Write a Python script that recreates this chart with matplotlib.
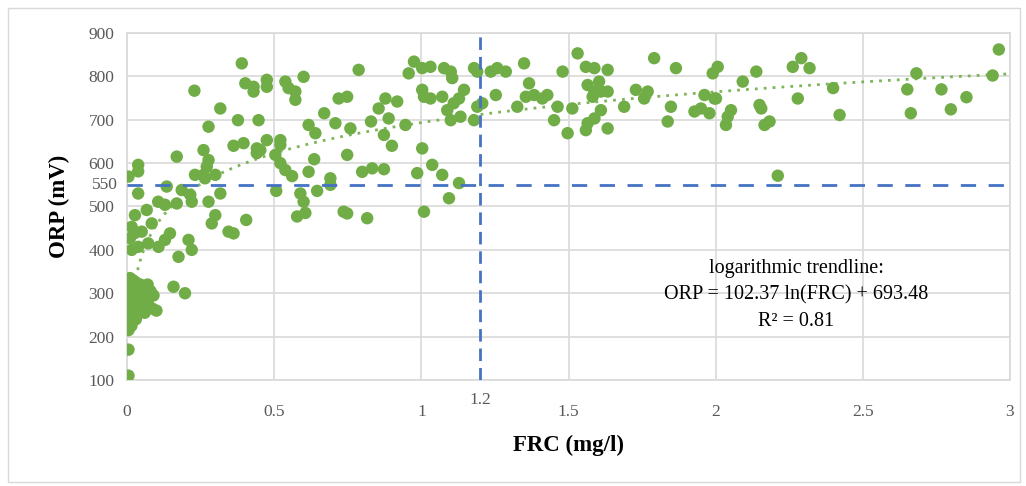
import numpy as np
import matplotlib
matplotlib.use("Agg")
import matplotlib.pyplot as plt
from matplotlib.patches import Rectangle

# ---- data (FRC mg/l, ORP mV) ----
frc_low = [0.005, 0.005, 0.005, 0.005, 0.005, 0.005, 0.005, 0.005, 0.005, 0.005, 0.01, 0.01, 0.01, 0.01,
           0.015, 0.015, 0.02, 0.02, 0.02, 0.025, 0.025, 0.03, 0.03, 0.035, 0.035, 0.04, 0.04, 0.045,
           0.045, 0.05, 0.05, 0.055, 0.06, 0.06, 0.065, 0.07, 0.07, 0.075, 0.08, 0.085, 0.09, 0.1,
           0.03, 0.015]
orp_low = [110, 170, 215, 230, 245, 260, 275, 290, 305, 320, 335, 250, 270, 285,
           300, 315, 330, 260, 280, 295, 245, 310, 325, 270, 290, 305, 255, 320,
           280, 295, 265, 310, 285, 255, 300, 320, 275, 290, 305, 265, 295, 260,
           240, 225]

frc_mid = [0.027, 0.067, 0.084, 0.016, 0.01, 0.027, 0.05, 0.016, 0.038, 0.072, 0.107, 0.146, 0.129,
           0.209, 0.22, 0.175, 0.158, 0.197, 0.30, 0.288, 0.345, 0.362, 0.405,
           0.106, 0.129, 0.169, 0.22, 0.277, 0.135, 0.186, 0.215, 0.317, 0.038,
           0.038, 0.038, 0.005, 0.169, 0.26, 0.277, 0.271, 0.30, 0.26, 0.231, 0.265]
orp_mid = [480, 492, 461, 453, 427, 439, 442, 400, 407, 415, 407, 438, 423,
           423, 400, 384, 315, 300, 480, 461, 442, 438, 469,
           511, 504, 507, 511, 511, 546, 538, 527, 530, 530,
           596, 581, 569, 615, 630, 607, 592, 573, 573, 573, 565]

frc_a = [0.39, 0.402, 0.43, 0.43, 0.475, 0.475, 0.229, 0.317, 0.277, 0.377, 0.447, 0.362, 0.396,
         0.441, 0.441, 0.475, 0.521, 0.521, 0.453,
         0.538, 0.549, 0.572, 0.572, 0.60, 0.504, 0.521, 0.538, 0.561, 0.507, 0.617, 0.636, 0.589,
         0.60, 0.578, 0.606, 0.617, 0.64, 0.67, 0.708, 0.719, 0.748, 0.787, 0.748, 0.759, 0.691,
         0.691, 0.646, 0.799, 0.833, 0.873, 0.736, 0.748, 0.816, 0.855, 0.878, 0.918, 0.829, 0.873,
         0.90, 0.889, 0.946, 0.957, 0.975]
orp_a = [830, 784, 776, 765, 792, 776, 767, 726, 684, 699, 699, 640, 646,
         634, 623, 653, 653, 642, 630,
         788, 773, 765, 746, 799, 619, 600, 584, 570, 536, 580, 609, 530,
         511, 477, 485, 688, 669, 715, 692, 749, 753, 815, 619, 680, 565,
         550, 536, 580, 588, 586, 488, 484, 473, 726, 749, 742, 696, 665,
         640, 703, 688, 807, 834]

frc_b = [0.986, 1.009, 1.003, 1.031, 1.077, 1.10, 1.105, 1.179, 1.19, 1.236, 1.258, 1.287, 1.349,
         1.48, 1.003, 1.009, 1.031, 1.071, 1.145, 1.128, 1.11, 1.088, 1.10, 1.133, 1.179, 1.19,
         1.207, 1.253, 1.326, 1.366, 1.355, 1.383, 1.411, 1.428, 1.463, 1.451, 1.497, 1.513, 1.003,
         1.037, 1.071, 1.128, 1.094]
orp_b = [577, 488, 819, 822, 819, 811, 796, 819, 811, 811, 819, 811, 830,
         811, 769, 753, 749, 753, 769, 749, 738, 722, 699, 707, 699, 730,
         738, 757, 730, 784, 753, 757, 749, 757, 730, 699, 669, 726, 634,
         596, 573, 554, 519]

frc_c = [1.531, 1.559, 1.588, 1.633, 1.791, 1.865, 1.99, 2.007, 1.565, 1.604, 1.588, 1.61, 1.633,
         1.582, 1.729, 1.769, 1.757, 1.689, 1.848, 1.61, 1.588, 1.565, 1.559, 1.633, 1.837, 1.928,
         1.95, 1.979, 1.962, 1.996,
         2.138, 2.092, 2.262, 2.291, 2.319, 2.001, 2.149, 2.155, 2.279, 2.399, 2.421, 2.052, 2.041,
         2.035, 2.166, 2.183, 2.211, 2.682, 2.651, 2.663, 2.767, 2.799, 2.852, 2.941, 2.962]
orp_c = [853, 822, 819, 815, 842, 819, 807, 822, 780, 788, 765, 765, 765,
         753, 769, 765, 749, 730, 730, 722, 703, 692, 676, 680, 696, 719,
         726, 715, 757, 749,
         811, 788, 822, 842, 819, 749, 734, 726, 749, 773, 711, 722, 707,
         688, 688, 696, 571, 807, 770, 715, 770, 724, 752, 802, 862]

frc = np.array(frc_low + frc_mid + frc_a + frc_b + frc_c)
orp = np.array(orp_low + orp_mid + orp_a + orp_b + orp_c)

trend_a, trend_b = 102.37, 693.48
orp_limit = 550
frc_limit = 1.2
x_ticks = [0, 0.5, 1, 1.5, 2, 2.5, 3]
x_labels = ["0", "0.5", "1", "1.5", "2", "2.5", "3"]
y_ticks = [100, 200, 300, 400, 500, 600, 700, 800, 900]

# ---- figure ----
W, H = 1026, 486
fig = plt.figure(figsize=(W / 100, H / 100), dpi=100)
fig.patches.append(Rectangle((8 / W, 4 / H), 1012 / W, 474 / H, transform=fig.transFigure,
                             fill=False, edgecolor="#D9D9D9", linewidth=1.0))
ax = fig.add_axes([127 / W, 1 - 380 / H, 883 / W, 347 / H])

serif = ["Liberation Serif", "DejaVu Serif"]
green = "#70AD47"
blue = "#4472C4"
grid = "#D9D9D9"
tick_col = "#595959"

ax.set_xlim(0, 3)
ax.set_ylim(100, 900)
ax.set_xticks(x_ticks)
ax.set_yticks(y_ticks)
ax.set_xticklabels(x_labels, fontfamily=serif, fontsize=12.5, color=tick_col)
ax.set_yticklabels([str(v) for v in y_ticks], fontfamily=serif, fontsize=12.5, color=tick_col)
ax.tick_params(axis="x", length=0, pad=17)
ax.tick_params(axis="y", length=0, pad=9)
ax.grid(True, color=grid, linewidth=1.2, zorder=0)
for s in ax.spines.values():
    s.set_color(grid)
    s.set_linewidth(1.2)
ax.set_axisbelow(True)

ax.scatter(frc, orp, s=80, color=green, edgecolors="none", zorder=3)

xt = np.linspace(0.02, 3, 400)
ax.plot(xt, trend_a * np.log(xt) + trend_b, linestyle=(0, (1, 2.2)), color=green,
        linewidth=2.0, zorder=4, alpha=0.9)

ax.axhline(orp_limit, color=blue, linewidth=2.0, dashes=(5.5, 4.5), zorder=5)
ax.axvline(frc_limit, color=blue, linewidth=2.0, dashes=(4.5, 2.5), zorder=5)

ax.text(-0.03, orp_limit, str(orp_limit), ha="right", va="center",
        fontfamily=serif, fontsize=12.5, color=tick_col)
ax.text(frc_limit, 72, str(frc_limit), ha="center", va="top", fontfamily=serif, fontsize=12.5,
        color=tick_col)

ax.set_xlabel("FRC (mg/l)", fontfamily=serif, fontsize=16.5, fontweight="bold", labelpad=11)
ax.set_ylabel("ORP (mV)", fontfamily=serif, fontsize=16.5, fontweight="bold", labelpad=13)

ax.text(2.274, 358, "logarithmic trendline:", ha="center", va="center", fontfamily=serif, fontsize=14.5)
ax.text(2.274, 296, "ORP = 102.37 ln(FRC) + 693.48", ha="center", va="center", fontfamily=serif, fontsize=14.5)
ax.text(2.274, 234, "R² = 0.81", ha="center", va="center", fontfamily=serif, fontsize=14.5)

fig.savefig("out.png", dpi=100)
